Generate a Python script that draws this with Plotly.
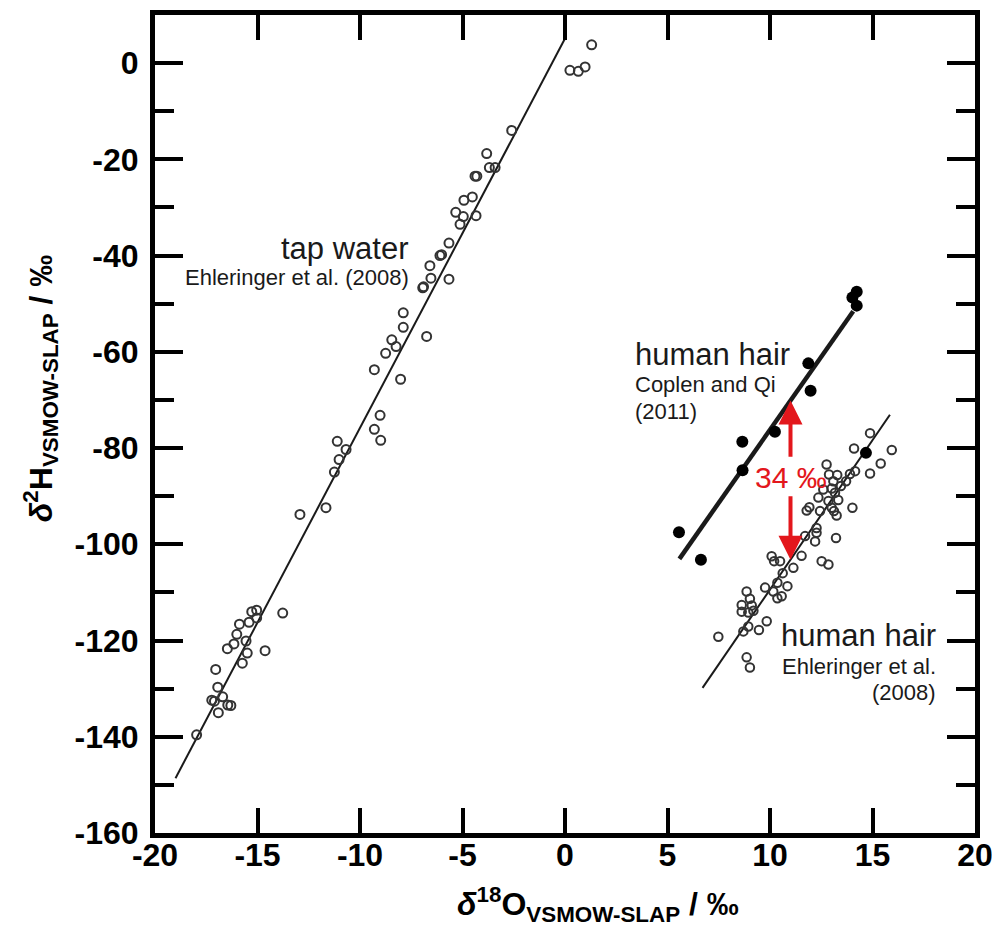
import plotly.graph_objects as go

# Tap water (Ehleringer et al. 2008)
tap_x = [1.30, 0.24, 0.65, 0.98, -2.60, -3.82, -3.69, -3.41, -4.39, -4.30, -4.52, -4.93, -5.33, -4.96,
         -4.34, -5.12, -5.66, -6.10, -6.02, -6.59, -6.54, -5.66, -6.94, -6.90, -7.89, -7.89, -6.75, -8.45,
         -8.24, -8.75, -9.30, -8.02, -9.02, -9.30, -8.99, -11.11, -10.68, -11.02, -11.25, -11.66, -12.93,
         -13.77, -14.63, -15.04, -15.28, -15.04, -15.41, -15.88, -16.01, -15.56, -16.15, -16.47, -15.50,
         -15.74, -17.04, -16.94, -17.23, -17.10, -16.70, -16.45, -16.30, -16.91, -17.97]
tap_y = [3.8, -1.5, -1.7, -0.8, -14.0, -18.8, -21.7, -21.7, -23.5, -23.5, -27.8, -28.5, -31.0, -31.9,
         -31.7, -33.5, -37.4, -40.0, -39.8, -42.1, -44.7, -44.9, -46.7, -46.5, -51.9, -54.9, -56.8, -57.5,
         -58.9, -60.3, -63.7, -65.7, -73.2, -76.1, -78.4, -78.6, -80.3, -82.4, -85.0, -92.4, -93.8,
         -114.3, -122.1, -113.7, -114.0, -115.3, -116.2, -116.6, -118.7, -120.1, -120.7, -121.7, -122.6,
         -124.7, -126.0, -129.7, -132.4, -132.6, -131.7, -133.4, -133.5, -135.0, -139.6]

# Human hair (Coplen and Qi 2011)
cq_x = [14.23, 14.02, 14.23, 11.87, 11.98, 10.24, 8.65, 8.66, 5.56, 6.63, 14.68]
cq_y = [-47.5, -48.7, -50.4, -62.4, -68.1, -76.6, -78.7, -84.6, -97.5, -103.2, -81.0]

# Human hair (Ehleringer et al. 2008)
eh_x = [14.88, 14.10, 15.94, 15.40, 14.88, 14.15, 12.76, 12.88, 13.28, 13.90, 13.09, 13.71, 13.46, 13.01,
        12.60, 13.17, 12.36, 13.33, 12.85, 14.02, 11.92, 11.79, 12.44, 13.01, 13.12, 13.25, 12.27, 11.71,
        12.27, 12.20, 13.22, 11.54, 12.52, 12.85, 10.08, 10.20, 10.49, 11.14, 10.62, 10.36, 10.85, 9.76,
        10.16, 10.57, 10.36, 8.86, 9.02, 8.62, 9.11, 8.62, 8.94, 9.19, 9.84, 9.46, 8.94, 8.70, 7.48,
        8.86, 9.02]
eh_y = [-76.9, -80.1, -80.4, -83.2, -85.3, -84.8, -83.4, -85.5, -85.6, -85.4, -86.9, -86.9, -87.9, -88.4,
        -88.6, -89.3, -90.3, -90.8, -91.0, -92.4, -92.3, -93.0, -93.1, -92.4, -93.1, -94.0, -96.6, -98.3,
        -97.6, -99.4, -98.7, -102.4, -103.5, -104.2, -102.5, -103.5, -103.5, -104.9, -106.0, -108.0, -108.7,
        -109.0, -109.8, -110.8, -111.2, -109.8, -111.3, -112.6, -112.7, -114.0, -114.2, -113.8, -116.0,
        -117.8, -117.1, -118.1, -119.2, -123.5, -125.6]

# Fitted lines: (slope, intercept, x range)
tap_fit = (8.09, 5.1, [-19.0, 0.0])
cq_fit = (6.07, -136.9, [5.58, 14.06])
eh_fit = (6.21, -171.5, [6.71, 15.85])

arrow_x = 11.0
arrow_label = "34 ‰"

x_ticks = [-20, -15, -10, -5, 0, 5, 10, 15, 20]
y_ticks = [0, -20, -40, -60, -80, -100, -120, -140, -160]

FONT = "Liberation Sans, Arial, sans-serif"
INK = "#1a1a1a"
RED = "#e3171c"

def line_pts(fit):
    m, b, xr = fit
    return xr, [m * v + b for v in xr]

fig = go.Figure()

for fit, w in [(tap_fit, 2), (eh_fit, 2), (cq_fit, 4.5)]:
    lx, ly = line_pts(fit)
    fig.add_trace(go.Scatter(x=lx, y=ly, mode="lines", line=dict(color=INK, width=w),
                             showlegend=False, hoverinfo="skip"))

fig.add_trace(go.Scatter(x=tap_x, y=tap_y, mode="markers",
                         marker=dict(symbol="circle-open", size=9, color="#333333", line=dict(width=2)),
                         showlegend=False))
fig.add_trace(go.Scatter(x=eh_x, y=eh_y, mode="markers",
                         marker=dict(symbol="circle-open", size=8.5, color="#333333", line=dict(width=2)),
                         showlegend=False))
fig.add_trace(go.Scatter(x=cq_x, y=cq_y, mode="markers",
                         marker=dict(symbol="circle", size=12, color="#000000"),
                         showlegend=False))

# red double arrow between the two hair lines
m1, b1, _ = cq_fit
m2, b2, _ = eh_fit
top_y = m1 * arrow_x + b1
bot_y = m2 * arrow_x + b2
for tip, tail in [(top_y, top_y - 12.0), (bot_y, bot_y + 13.5)]:
    fig.add_annotation(x=arrow_x, y=tip, ax=arrow_x, ay=tail, xref="x", yref="y", axref="x", ayref="y",
                       text="", showarrow=True, arrowhead=2, arrowsize=1.2, arrowwidth=4, arrowcolor=RED)
fig.add_annotation(x=arrow_x, y=(top_y + bot_y) / 2 + 0.5, xref="x", yref="y", text=arrow_label,
                   showarrow=False, font=dict(family=FONT, size=30, color=RED), xanchor="center",
                   yanchor="middle")

def label(x, y, text, size, anchor):
    fig.add_annotation(x=x, y=y, xref="x", yref="y", text=text, showarrow=False,
                       font=dict(family=FONT, size=size, color=INK), xanchor=anchor, yanchor="middle")

label(-7.5, -38.6, "tap water", 31, "right")
label(-7.5, -44.6, "Ehleringer et al. (2008)", 22, "right")
label(3.3, -60.6, "human hair", 31, "left")
label(3.3, -66.8, "Coplen and Qi", 22, "left")
label(3.3, -72.4, "(2011)", 22, "left")
label(18.2, -119.0, "human hair", 31, "right")
label(18.2, -125.4, "Ehleringer et al.", 22, "right")
label(18.2, -130.9, "(2008)", 22, "right")

# axis titles (placed as paper-anchored text to match the reference offsets)
title_font = dict(family=FONT, size=32, color="#000000", weight="bold")
fig.add_annotation(x=0.540, y=-0.088, xref="paper", yref="paper", showarrow=False,
                   text="<i>δ</i><sup>18</sup>O<sub>VSMOW-SLAP</sub> / ‰", font=title_font,
                   xanchor="center", yanchor="middle")
fig.add_annotation(x=-0.140, y=0.544, xref="paper", yref="paper", showarrow=False, textangle=-90,
                   text="<i>δ</i><sup>2</sup>H<sub>VSMOW-SLAP</sub> / ‰", font=title_font,
                   xanchor="center", yanchor="middle")

axis_common = dict(showline=True, linewidth=5, linecolor="#000000", mirror="ticks", ticks="inside",
                   tickwidth=4, tickcolor="#000000", showgrid=False, zeroline=False, automargin=False,
                   ticklabeloverflow="allow",
                   tickfont=dict(family=FONT, size=32, color="#000000", weight="bold"))

fig.update_xaxes(range=[-20, 20], tickvals=x_ticks, ticktext=[str(v) for v in x_ticks], ticklen=25,
                 ticklabelstandoff=-10, **axis_common)
fig.update_yaxes(range=[-160, 10], tickvals=y_ticks, ticktext=[str(v) for v in y_ticks], ticklen=28,
                 ticklabelstandoff=5,
                 minor=dict(ticks="inside", dtick=10, tick0=0, ticklen=19, tickwidth=4, tickcolor="#000000"),
                 **axis_common)

# page body has an 8px default margin, so the figure is sized/margined to compensate
# plot area: 820 x 818 px, starting at page (155, 15)
fig.update_layout(width=992, height=935, margin=dict(l=147, r=25, t=7, b=110),
                  plot_bgcolor="white", paper_bgcolor="white", showlegend=False)

fig.write_html("out.html")
